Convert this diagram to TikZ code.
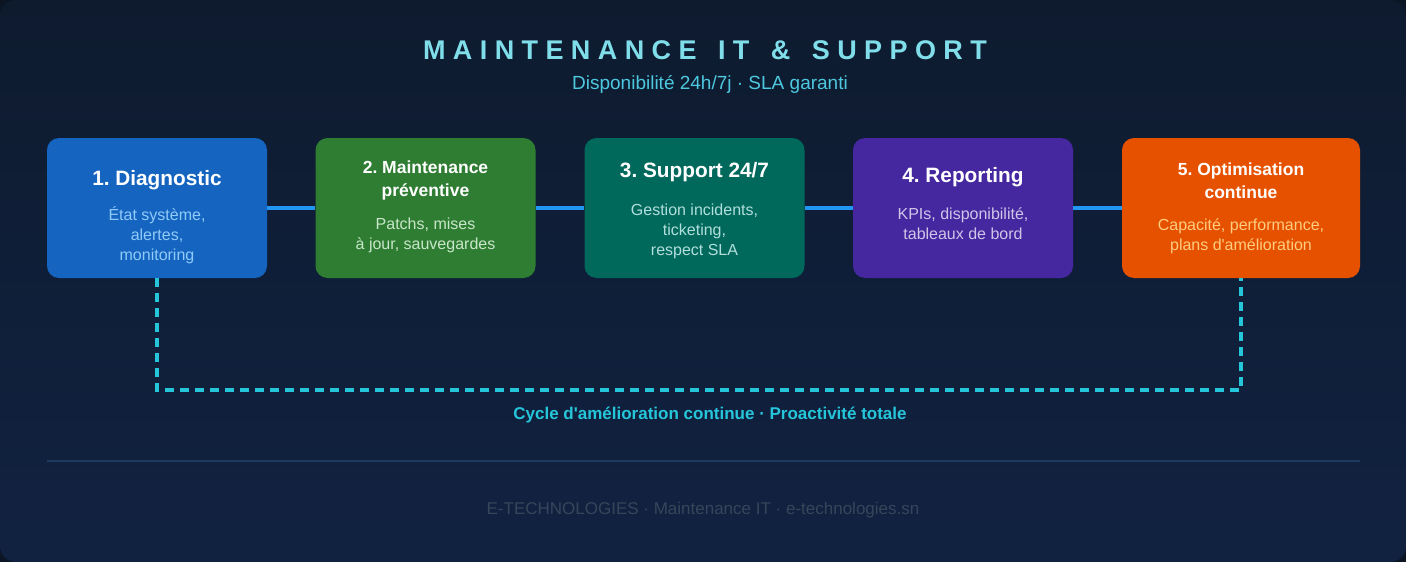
\documentclass[tikz,border=0pt]{standalone}
\usepackage{fontspec}
\setmainfont{Liberation Sans}[Ligatures=TeXOff]
\usetikzlibrary{positioning, calc}

\definecolor{bgedge}{HTML}{0B1524}
\definecolor{bgtop}{HTML}{0E1B2F}
\definecolor{bgbot}{HTML}{112241}
\definecolor{titlecyan}{HTML}{80DEEA}
\definecolor{subcyan}{HTML}{4DC8DE}
\definecolor{loopcyan}{HTML}{26C6DA}
\definecolor{linkblue}{HTML}{2196F3}
\definecolor{diagblue}{HTML}{1565C0}
\definecolor{maintgreen}{HTML}{2E7D32}
\definecolor{suppteal}{HTML}{00695C}
\definecolor{reppurple}{HTML}{4527A0}
\definecolor{optorange}{HTML}{E65100}
\definecolor{diagtxt}{HTML}{90CAF9}
\definecolor{mainttxt}{HTML}{C8E6C9}
\definecolor{supptxt}{HTML}{B2DFDB}
\definecolor{reptxt}{HTML}{D1C4E9}
\definecolor{opttxt}{HTML}{FFCC80}
\definecolor{sepblue}{HTML}{1E3A5F}
\definecolor{footgray}{HTML}{34475A}

\newcommand{\wordgap}{\hspace{21.5pt}}

\begin{document}
\frenchspacing
\begin{tikzpicture}[x=1pt, y=-1pt,
    stepbox/.style={rounded corners=12pt, minimum width=220pt, minimum height=140pt, inner sep=0pt},
    steptitle/.style={text=white, align=center, font=\bfseries\fontsize{20.8}{23}\selectfont},
    smalltitle/.style={text=white, align=center, font=\bfseries\fontsize{17.5}{23}\selectfont},
    stepsub/.style={align=center, font=\fontsize{16}{20}\selectfont},
    link/.style={linkblue, line width=4pt},
    loopline/.style={loopcyan, line width=3.5pt, dash pattern=on 9pt off 6pt}]
    % background
    \fill[bgedge] (0,0) rectangle (1406,562);
    \shade[rounded corners=16pt, top color=bgtop, bottom color=bgbot] (0,0) rectangle (1406,562);
    % header
    \node[text=titlecyan, font=\bfseries\fontsize{27}{30}\selectfont\addfontfeature{LetterSpace=27.4}] (title) at (705,50) {MAINTENANCE\wordgap IT\wordgap\&\wordgap SUPPORT};
    \node[text=subcyan, font=\fontsize{19}{22}\selectfont] (subtitle) at (710,84) {Disponibilité 24h/7j · SLA garanti};
    % steps
    \node[stepbox, fill=diagblue] (diag) at (157,208) {};
    \node[stepbox, fill=maintgreen] (maint) at (425.5,208) {};
    \node[stepbox, fill=suppteal] (supp) at (694.5,208) {};
    \node[stepbox, fill=reppurple] (rep) at (963,208) {};
    \node[stepbox, fill=optorange, minimum width=238pt] (optim) at (1241,208) {};
    \node[steptitle] (diagtitle) at (157,180) {1. Diagnostic};
    \node[stepsub, text=diagtxt] (diagsub) at (157,235) {État système,\\alertes,\\monitoring};
    \node[smalltitle] (mainttitle) at (425.5,180.5) {2. Maintenance\\préventive};
    \node[stepsub, text=mainttxt] (maintsub) at (425.5,235.5) {Patchs, mises\\à jour, sauvegardes};
    \node[steptitle] (supptitle) at (694.5,172) {3. Support 24/7};
    \node[stepsub, text=supptxt] (suppsub) at (694.5,231) {Gestion incidents,\\ticketing,\\respect SLA};
    \node[steptitle] (reptitle) at (963,177) {4. Reporting};
    \node[stepsub, text=reptxt] (repsub) at (963,224) {KPIs, disponibilité,\\tableaux de bord};
    \node[smalltitle] (opttitle) at (1241,180.5) {5. Optimisation\\continue};
    \node[stepsub, text=opttxt] (optsub) at (1241,236) {Capacité, performance,\\plans d'amélioration};
    % links
    \draw[link] (diag) -- (maint);
    \draw[link] (maint) -- (supp);
    \draw[link] (supp) -- (rep);
    \draw[link] (rep) -- (optim);
    % feedback loop
    \draw[loopline] (diag.south) -- ++(0,112) -| (optim.south);
    \node[text=loopcyan, font=\bfseries\fontsize{17}{20}\selectfont] (cyclelbl) at (710,415) {Cycle d'amélioration continue · Proactivité totale};
    % footer
    \draw[sepblue, line width=1.5pt] (47,461) -- (1360,461);
    \node[text=footgray, font=\fontsize{17}{20}\selectfont] (foot) at (703,510) {E-TECHNOLOGIES · Maintenance IT · e-technologies.sn};
\end{tikzpicture}
\end{document}
